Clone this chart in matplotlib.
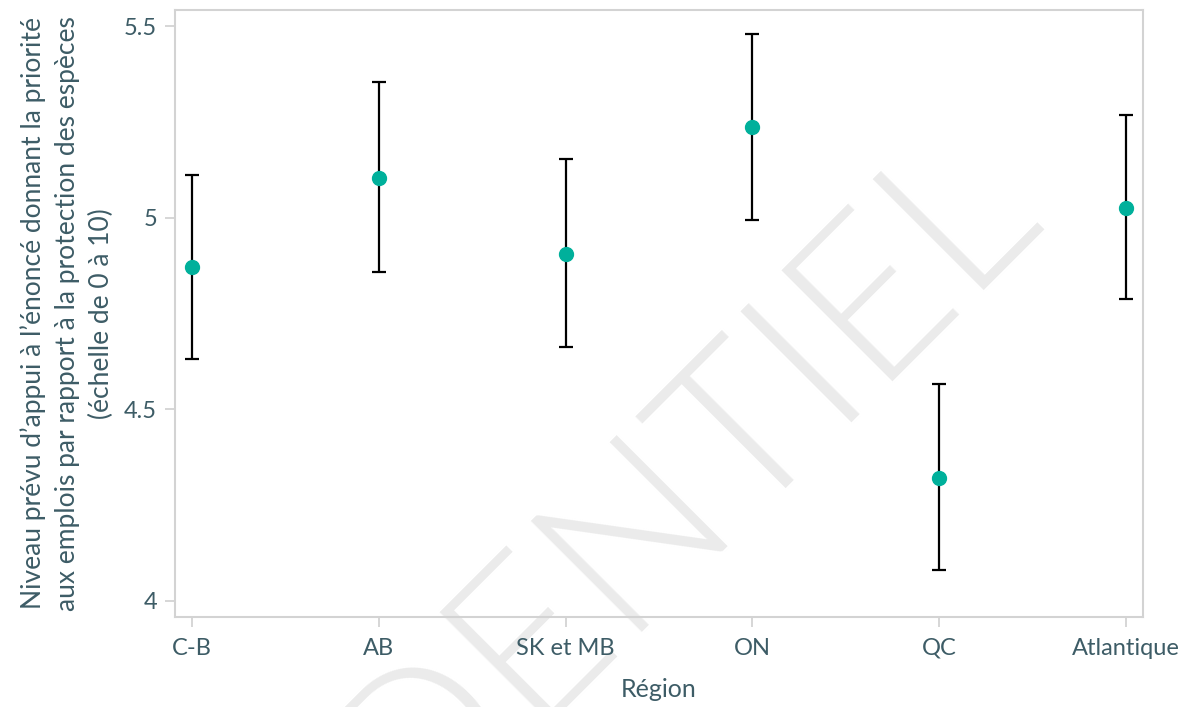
import matplotlib.pyplot as plt
import numpy as np

plt.rcParams['font.family'] = ['Lato', 'DejaVu Sans']

regions = ['C-B', 'AB', 'SK et MB', 'ON', 'QC', 'Atlantique']
estimate = [4.871, 5.103, 4.905, 5.236, 4.322, 5.025]
lower = [4.631, 4.858, 4.662, 4.993, 4.080, 4.787]
upper = [5.111, 5.354, 5.153, 5.479, 4.565, 5.268]

yticks = [4, 4.5, 5, 5.5]
ytick_labels = ['4', '4.5', '5', '5.5']

text_col = '#3d5c66'
frame_col = '#d3d3d3'

fig = plt.figure(figsize=(11.97, 7.07), dpi=100)
ax = fig.add_axes([0.1462, 0.1273, 0.8087, 0.8586])
ax.patch.set_visible(False)

# watermark behind everything
fig.text(0.872, 0.692, 'CONFIDENTIEL', rotation=45, rotation_mode='anchor',
         ha='right', va='baseline', fontsize=160, fontweight=300,
         color='#ebebeb', zorder=-1)

x = np.arange(len(regions))
est = np.array(estimate)
yerr = [est - np.array(lower), np.array(upper) - est]

ax.errorbar(x, est, yerr=yerr, fmt='none', ecolor='black', elinewidth=1.6,
            capsize=4.7, capthick=1.6, zorder=3)
ax.plot(x, est, 'o', color='#00b09b', markersize=10, zorder=4)

ax.set_xlim(-0.09, 5.09)
ax.set_ylim(3.958, 5.542)
ax.set_xticks(x, regions)
ax.set_yticks(yticks, ytick_labels)

for s in ax.spines.values():
    s.set_color(frame_col)
    s.set_linewidth(1.5)

ax.tick_params(axis='both', labelsize=17, labelcolor=text_col, length=7,
               width=1.3, color=frame_col)
ax.tick_params(axis='x', pad=8)
ax.tick_params(axis='y', pad=6)
for t, v in zip(ax.yaxis.get_major_ticks(), yticks):
    if v in (4.5, 5):
        t.tick1line.set_color('#222222')

ax.set_xlabel('Région', fontsize=18, color=text_col, labelpad=14)
ax.set_ylabel("Niveau prévu d’appui à l’énoncé donnant la priorité\n"
              "aux emplois par rapport à la protection des espèces\n"
              "(échelle de 0 à 10)", fontsize=19, color=text_col,
              labelpad=7, linespacing=1.45)

fig.savefig('out.png', dpi=100)
